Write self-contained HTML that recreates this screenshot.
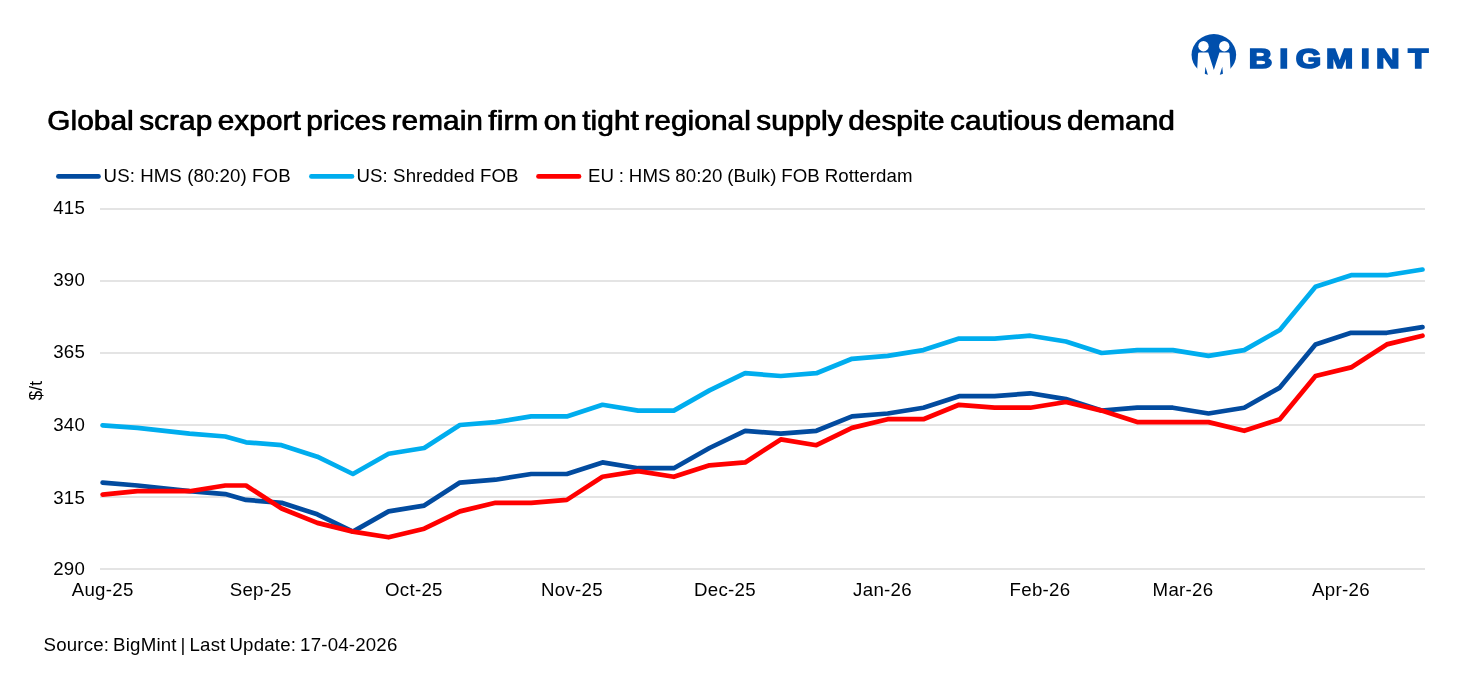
<!DOCTYPE html>
<html lang="en"><head><meta charset="utf-8"><title>Global scrap export prices</title>
<style>
html,body{margin:0;padding:0;background:#fff;}
body{position:relative;width:1466px;height:674px;overflow:hidden;font-family:"Liberation Sans",Arial,sans-serif;}
svg{display:block;}
svg text{font-family:"Liberation Sans",Arial,sans-serif;fill:#000;}
.ax text{font-size:18.67px;letter-spacing:0.3px;}
.lg text{font-size:18.67px;letter-spacing:0.08px;}
.grid line{stroke:#e4e4e4;stroke-width:2;}
.ser polyline,.lg line{fill:none;stroke-width:4.7;stroke-linecap:round;stroke-linejoin:round;}
.title{position:absolute;left:46.6px;top:105.2px;margin:0;font-size:28px;font-weight:normal;line-height:32px;white-space:nowrap;color:#000;letter-spacing:0.12px;word-spacing:-2.87px;-webkit-text-stroke:0.3px #000;text-shadow:0.7px 0 0 #000;transform:scaleX(1.06);transform-origin:0 0;}
.foot{font-size:18.67px;letter-spacing:0.2px;word-spacing:-1.5px;}
.brand{font-size:27.5px;font-weight:bold;fill:#004fac;stroke:#004fac;stroke-width:1.7px;stroke-linejoin:miter;}
</style></head><body>
<h1 class="title">Global scrap export prices remain firm on tight regional supply despite cautious demand</h1>
<svg width="1466" height="674" viewBox="0 0 1466 674">
<rect width="1466" height="674" fill="#fff"/>
<g class="logo">
<ellipse cx="1213.85" cy="54.85" rx="22.3" ry="20.8" fill="#004fac"/>
<circle cx="1203.51" cy="46.19" r="5.2" fill="#fff"/>
<circle cx="1224.26" cy="46.19" r="5.2" fill="#fff"/>
<polygon points="1198.06,53.80 1198.46,52.84 1199.42,52.44 1208.24,52.44 1213.85,70.07 1219.46,52.44 1228.27,52.44 1229.23,52.84 1229.63,53.80 1231.07,79.28 1223.46,79.28 1222.26,66.86 1218.49,79.28 1209.20,79.28 1205.43,66.86 1204.23,79.28 1196.62,79.28" fill="#fff"/>
<text class="brand" transform="scale(1.19,1)" x="1049.46 1075.09 1088.83 1114.34 1143.50 1156.27 1183.43" y="67.7">BIGMINT</text>
</g>
<g class="lg">
<line x1="58.4" x2="98.5" y1="176.4" y2="176.4" stroke="#024b9f"/>
<text x="103.6" y="181.9">US: HMS (80:20) FOB</text>
<line x1="311.4" x2="352" y1="176.4" y2="176.4" stroke="#00adee"/>
<text x="356.5" y="181.9">US: Shredded FOB</text>
<line x1="538.5" x2="579" y1="176.4" y2="176.4" stroke="#ff0000"/>
<text x="587.9" y="181.9" style="word-spacing:-0.45px">EU : HMS 80:20 (Bulk) FOB Rotterdam</text>
</g>
<g class="grid"><line x1="100" x2="1425" y1="569.0" y2="569.0"/><line x1="100" x2="1425" y1="497.0" y2="497.0"/><line x1="100" x2="1425" y1="425.0" y2="425.0"/><line x1="100" x2="1425" y1="353.0" y2="353.0"/><line x1="100" x2="1425" y1="281.0" y2="281.0"/><line x1="100" x2="1425" y1="209.0" y2="209.0"/></g>
<g class="ax"><text x="85.2" y="575.4" text-anchor="end">290</text><text x="85.2" y="503.6" text-anchor="end">315</text><text x="85.2" y="431.2" text-anchor="end">340</text><text x="85.2" y="358.2" text-anchor="end">365</text><text x="85.2" y="286.2" text-anchor="end">390</text><text x="85.2" y="214.2" text-anchor="end">415</text><text x="102.7" y="595.8" text-anchor="middle">Aug-25</text><text x="260.7" y="595.8" text-anchor="middle">Sep-25</text><text x="413.9" y="595.8" text-anchor="middle">Oct-25</text><text x="572" y="595.8" text-anchor="middle">Nov-25</text><text x="725" y="595.8" text-anchor="middle">Dec-25</text><text x="882.5" y="595.8" text-anchor="middle">Jan-26</text><text x="1040" y="595.8" text-anchor="middle">Feb-26</text><text x="1183" y="595.8" text-anchor="middle">Mar-26</text><text x="1341" y="595.8" text-anchor="middle">Apr-26</text>
<text transform="translate(41.9,390.7) rotate(-90)" text-anchor="middle" style="font-size:17.5px;letter-spacing:0">$/t</text>
</g>
<g class="ser">
<polyline stroke="#00adee" points="102.6,425.4 137.5,427.9 189.5,433.6 225.3,436.5 246.0,442.3 281.6,445.2 317.3,456.7 352.9,474.0 388.6,453.8 424.2,448.0 459.9,425.0 495.5,422.1 531.2,416.4 566.8,416.4 602.5,404.8 638.1,410.6 673.8,410.6 709.5,390.4 745.1,373.2 780.8,376.0 816.4,373.2 852.0,358.8 887.7,355.9 923.4,350.1 959.0,338.6 994.6,338.6 1030.3,335.7 1065.9,341.5 1101.6,353.0 1137.2,350.1 1172.9,350.1 1208.5,355.9 1244.2,350.1 1279.8,330.0 1315.5,286.8 1351.1,275.2 1386.8,275.2 1422.5,269.5"/>
<polyline stroke="#024b9f" points="102.6,482.6 137.5,485.5 189.5,491.2 225.3,494.1 246.0,499.9 281.6,502.8 317.3,514.3 352.9,531.6 388.6,511.4 424.2,505.6 459.9,482.6 495.5,479.7 531.2,474.0 566.8,474.0 602.5,462.4 638.1,468.2 673.8,468.2 709.5,448.0 745.1,430.8 780.8,433.6 816.4,430.8 852.0,416.4 887.7,413.5 923.4,407.7 959.0,396.2 994.6,396.2 1030.3,393.3 1065.9,399.1 1101.6,410.6 1137.2,407.7 1172.9,407.7 1208.5,413.5 1244.2,407.7 1279.8,387.6 1315.5,344.4 1351.1,332.8 1386.8,332.8 1422.5,327.1"/>
<polyline stroke="#ff0000" points="102.6,494.6 137.5,491.2 189.5,491.2 225.3,485.5 246.0,485.5 281.6,508.5 317.3,522.9 352.9,531.6 388.6,537.3 424.2,528.7 459.9,511.4 495.5,502.8 531.2,502.8 566.8,499.9 602.5,476.8 638.1,471.1 673.8,476.8 709.5,465.3 745.1,462.4 780.8,439.4 816.4,445.2 852.0,427.9 887.7,419.2 923.4,419.2 959.0,404.8 994.6,407.7 1030.3,407.7 1065.9,402.0 1101.6,410.6 1137.2,422.1 1172.9,422.1 1208.5,422.1 1244.2,430.8 1279.8,419.2 1315.5,376.0 1351.1,367.4 1386.8,344.4 1422.5,335.7"/>
</g>
<text class="foot" x="43.5" y="651">Source: BigMint | Last Update: 17-04-2026</text>
</svg>
</body></html>
